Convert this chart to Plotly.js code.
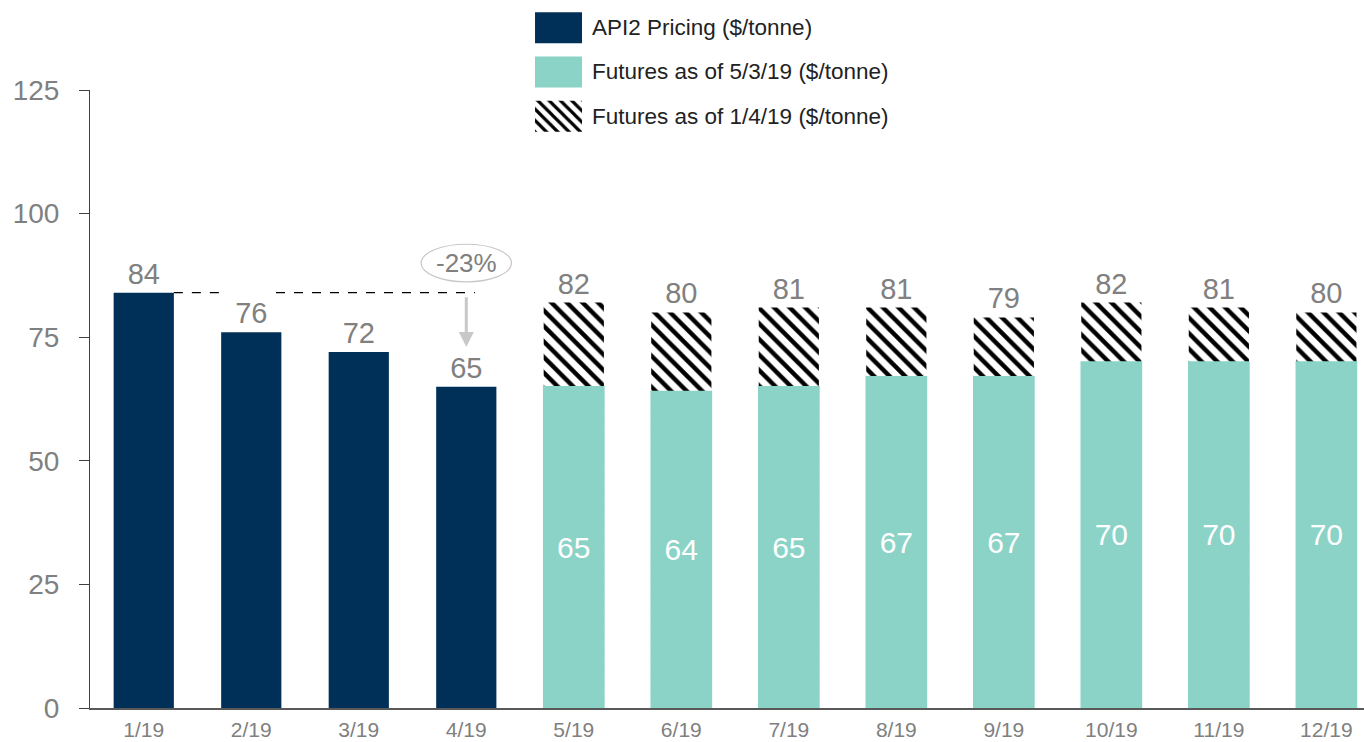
<!DOCTYPE html>
<html>
<head>
<meta charset="utf-8">
<script src="https://cdn.plot.ly/plotly-3.0.1.min.js"></script>
<style>html,body{margin:0;padding:0;background:#fff;}#chart{width:1364px;height:742px;}</style>
</head>
<body>
<div id="chart"></div>
<script>
const months = ['1/19','2/19','3/19','4/19','5/19','6/19','7/19','8/19','9/19','10/19','11/19','12/19'];
const api2Months = ['1/19','2/19','3/19','4/19'];
const api2Values = [84, 76, 72, 65];
const futureMonths = ['5/19','6/19','7/19','8/19','9/19','10/19','11/19','12/19'];
const futuresMay = [65, 64, 65, 67, 67, 70, 70, 70];
const futuresJan = [82, 80, 81, 81, 79, 82, 81, 80];
const yTicks = [0, 25, 50, 75, 100, 125];

const navy = '#003057';
const teal = '#8BD3C7';
const gray = '#808080';
const font = 'Liberation Sans, Arial, sans-serif';
const bw = 0.56;

const traces = [
  {
    type: 'bar', name: 'API2 Pricing ($/tonne)', x: api2Months, y: api2Values,
    marker: {color: navy}, width: bw,
    text: api2Values.map(String), textposition: 'outside', cliponaxis: false,
    textfont: {size: 29, color: gray, family: font}, legendgroup: 'a', legendrank: 1
  },
  {
    type: 'bar', name: 'Futures as of 1/4/19 ($/tonne)', x: futureMonths, y: futuresJan,
    marker: {color: '#ffffff', pattern: {shape: '\\', fgcolor: '#000000', bgcolor: '#ffffff', size: 11, solidity: 0.4}},
    width: bw,
    text: futuresJan.map(String), textposition: 'outside', cliponaxis: false,
    textfont: {size: 29, color: gray, family: font}, legendgroup: 'c', legendrank: 3
  },
  {
    type: 'bar', name: 'Futures as of 5/3/19 ($/tonne)', x: futureMonths, y: futuresMay,
    marker: {color: teal, line: {color: teal, width: 1.5}}, width: bw,
    text: futuresMay.map(String), textposition: 'inside', insidetextanchor: 'middle',
    textfont: {size: 30, color: '#ffffff', family: font}, legendgroup: 'b', legendrank: 2
  }
];

const layout = {
  width: 1364, height: 742,
  margin: {l: 90, r: 0, t: 90, b: 34},
  paper_bgcolor: '#ffffff', plot_bgcolor: '#ffffff',
  barmode: 'overlay',
  font: {family: font},
  showlegend: true,
  legend: {
    x: 0.3493, y: 1.137, xanchor: 'left', yanchor: 'top',
    font: {size: 22.5, color: '#222222', family: font},
    itemwidth: 47, tracegroupgap: 12, bgcolor: 'rgba(0,0,0,0)'
  },
  xaxis: {
    type: 'category', categoryorder: 'array', categoryarray: months,
    range: [-0.5, 11.35], showgrid: false, zeroline: false,
    showline: true, linecolor: '#595959', linewidth: 1.5,
    ticks: '', tickfont: {size: 21, color: gray, family: font}, ticklabelstandoff: 2
  },
  yaxis: {
    range: [0, 125], tickvals: yTicks, ticktext: yTicks.map(String),
    showgrid: false, zeroline: false, showline: true, linecolor: '#404040', linewidth: 1,
    ticks: 'outside', ticklen: 10, tickcolor: '#404040',
    tickfont: {size: 28, color: gray, family: font}, ticklabelstandoff: 14
  },
  shapes: [
    {type: 'line', xref: 'x', yref: 'y', x0: 0.28, x1: 0.78, y0: api2Values[0], y1: api2Values[0],
     line: {color: '#000000', width: 1.2, dash: 'dash'}},
    {type: 'line', xref: 'x', yref: 'y', x0: 1.23, x1: 3.08, y0: api2Values[0], y1: api2Values[0],
     line: {color: '#000000', width: 1.2, dash: 'dash'}},
    {type: 'circle', xref: 'x', yref: 'y', x0: 2.58, x1: 3.42, y0: 86.2, y1: 93.8,
     line: {color: '#c8c8c8', width: 1.2}, fillcolor: 'rgba(0,0,0,0)'}
  ],
  annotations: [
    {x: 3, y: 73, xref: 'x', yref: 'y', ax: 3, ay: 83.4, axref: 'x', ayref: 'y',
     text: '', showarrow: true, arrowhead: 2, arrowsize: 1, arrowwidth: 3, arrowcolor: '#c8c8c8'},
    {x: 3, y: 90, xref: 'x', yref: 'y', text: '-23%', showarrow: false,
     font: {size: 26, color: gray, family: font}}
  ]
};

Plotly.newPlot('chart', traces, layout, {displayModeBar: false, staticPlot: true}).then(function () {
  // enlarge legend swatches to match the reference's wide blocks
  document.querySelectorAll('.legend .traces').forEach(function (g) {
    const txt = g.querySelector('.legendtext');
    const paths = g.querySelectorAll('.legendpoints path');
    if (!txt || !paths.length) return;
    const tr = txt.getBoundingClientRect();
    paths.forEach(function (p) {
      const pr = p.getBoundingClientRect();
      const cx = pr.left + pr.width / 2;
      const cy = pr.top + pr.height / 2;
      const want = tr.left - 10 - 23.5;
      const dx = want - cx;
      const dy = (tr.top + tr.height / 2) - cy;
      p.setAttribute('d', 'M' + (dx - 23.5) + ',' + (dy - 15.5) + 'H' + (dx + 23.5) + 'V' + (dy + 15.5) + 'H' + (dx - 23.5) + 'Z');
      p.style.strokeWidth = '0px';
    });
  });
});
</script>
</body>
</html>
